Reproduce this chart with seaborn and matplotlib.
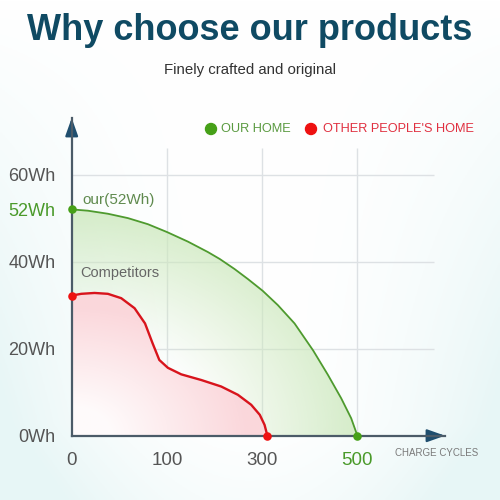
"""Why choose our products: battery capacity vs. charge cycles."""

import matplotlib

matplotlib.use("Agg")
import matplotlib.pyplot as plt
import numpy as np
import pandas as pd
import seaborn as sns
from matplotlib.patches import Polygon

# Data (cycles, Wh)
our_cycles = [0, 17, 38, 59, 80, 100, 144, 186, 211, 242, 270, 301, 333, 368, 407, 438, 466, 487, 500]
our_wh = [52.0, 51.7, 51.0, 50.0, 48.6, 46.8, 44.6, 42.2, 40.6, 38.3, 36.0, 33.3, 30.0, 25.8, 19.6, 14.0, 8.6, 4.0, 0.0]
other_cycles = [0, 10, 24, 38, 52, 66, 77, 85, 92, 102, 130, 172, 214, 249, 277, 295, 305, 311]
other_wh = [32.2, 32.6, 32.8, 32.6, 31.6, 29.3, 25.8, 21.2, 17.4, 15.6, 14.1, 12.8, 11.3, 9.4, 7.1, 4.8, 2.5, 0.0]

x_ticks = [0, 100, 300, 500]
x_labels = ["0", "100", "300", "500"]
y_ticks = [0, 20, 40, 52, 60]
y_labels = ["0Wh", "20Wh", "40Wh", "52Wh", "60Wh"]

GREEN = "#4e9a2e"
RED = "#d8141c"
AXIS = "#4b5b68"
GRID = "#dde1e4"
TICK_TXT = "#555555"

# x axis is not linear: ticks 0/100/300/500 are evenly spaced
KNOTS_X = np.array([0, 100, 300, 500, 700], dtype=float)
KNOTS_U = np.array([0, 1, 2, 3, 4], dtype=float)


def fwd(x):
    x = np.asarray(x, dtype=float)
    u = np.interp(x, KNOTS_X, KNOTS_U)
    u = np.where(x < 0, x / 100.0, u)
    u = np.where(x > 700, 4 + (x - 700) / 200.0, u)
    return u


def inv(u):
    u = np.asarray(u, dtype=float)
    x = np.interp(u, KNOTS_U, KNOTS_X)
    x = np.where(u < 0, u * 100.0, x)
    x = np.where(u > 4, 700 + (u - 4) * 200.0, x)
    return x


sns.set_theme(style="white")
plt.rcParams["font.family"] = ["Liberation Sans", "DejaVu Sans"]

fig = plt.figure(figsize=(5, 5), dpi=100)
fig.patch.set_facecolor("white")

# soft cyan background towards the lower corners
bg = fig.add_axes([0, 0, 1, 1], zorder=-10)
yy, xx = np.mgrid[0:1:200j, 0:1:200j]
w = (np.abs(xx - 0.5) / 0.5) ** 2 * (1 - yy) * 1.3 + np.clip(0.15 - yy, 0, None) * 2
w = np.clip(w, 0, 1) * 0.8
edge = np.array([0.886, 0.957, 0.957])
img = (1 - w[..., None]) * np.ones(3) + w[..., None] * edge
bg.imshow(img, extent=[0, 1, 0, 1], origin="lower", aspect="auto")
bg.axis("off")

ax = fig.add_axes([0.1434, 0.1286, 0.7466, 0.6354])
ax.set_facecolor("none")
ax.set_xscale("function", functions=(fwd, inv))
ax.set_xlim(0, 684)
ax.set_ylim(0, 73.0)

# grid
ax.vlines(x_ticks[1:], 0, 66, color=GRID, lw=1, zorder=0)
ax.hlines([20, 40, 60], 0, 660, color=GRID, lw=1, zorder=0)

# gradient fills clipped to the areas under the curves
gy, gx = np.mgrid[0:1:240j, 0:1:240j]
r_g = np.sqrt((gx / 0.765) ** 2 + (gy / 0.712) ** 2)
green_img = np.zeros((240, 240, 4))
green_img[..., :3] = [0.80, 0.91, 0.74]
green_img[..., 3] = np.clip((r_g - 0.45) / 0.55, 0.05, 1) * 0.8
im_g = ax.imshow(green_img, extent=[0, 1, 0, 1], origin="lower", aspect="auto",
                 transform=ax.transAxes, zorder=1, interpolation="bilinear")
poly_g = Polygon(list(zip(our_cycles, our_wh)) + [(0, 0)], closed=True,
                 transform=ax.transData, facecolor="none", edgecolor="none")
ax.add_patch(poly_g)
im_g.set_clip_path(poly_g)

# white under the red area so green does not show through
ax.fill_between(other_cycles, other_wh, 0, color="white", lw=0, zorder=1.5)

r_r = np.sqrt((gx / 0.52) ** 2 + (gy / 0.45) ** 2)
red_img = np.zeros((240, 240, 4))
red_img[..., :3] = [0.98, 0.78, 0.80]
red_img[..., 3] = np.clip(0.08 + 0.62 * (r_r - 0.2) / 0.7, 0.08, 0.7)
im_r = ax.imshow(red_img, extent=[0, 1, 0, 1], origin="lower", aspect="auto",
                 transform=ax.transAxes, zorder=2, interpolation="bilinear")
poly_r = Polygon(list(zip(other_cycles, other_wh)) + [(0, 0)], closed=True,
                 transform=ax.transData, facecolor="none", edgecolor="none")
ax.add_patch(poly_r)
im_r.set_clip_path(poly_r)

# curves
our_df = pd.DataFrame({"cycles": our_cycles, "wh": our_wh})
other_df = pd.DataFrame({"cycles": other_cycles, "wh": other_wh})
sns.lineplot(data=our_df, x="cycles", y="wh", sort=False, estimator=None,
             color=GREEN, lw=1.3, ax=ax, zorder=4)
sns.lineplot(data=other_df, x="cycles", y="wh", sort=False, estimator=None,
             color=RED, lw=1.7, ax=ax, zorder=4)
ax.scatter([our_cycles[0], our_cycles[-1]], [our_wh[0], our_wh[-1]], s=38,
           color="#46a018", zorder=6, clip_on=False, linewidths=0)
ax.scatter([other_cycles[0], other_cycles[-1]], [other_wh[0], other_wh[-1]], s=38,
           color="#ee1111", zorder=6, clip_on=False, linewidths=0)

ax.text(10.8, 54.2, "our(52Wh)", color="#5f8a4e", fontsize=11, ha="left", va="center")
ax.text(8.7, 37.4, "Competitors", color="#666666", fontsize=10.5, ha="left", va="center")

# axes, ticks
for side in ["top", "right"]:
    ax.spines[side].set_visible(False)
for side in ["left", "bottom"]:
    ax.spines[side].set_color(AXIS)
    ax.spines[side].set_linewidth(1.6)
    ax.spines[side].set_zorder(5)

ax.set_xticks(x_ticks)
ax.set_xticklabels(x_labels)
ax.set_yticks(y_ticks)
ax.set_yticklabels(y_labels)
ax.tick_params(axis="y", direction="out", length=8.5, width=1.2, color=AXIS,
               labelsize=13, labelcolor=TICK_TXT, pad=3)
ax.tick_params(axis="x", direction="out", length=8, width=1.2, color=AXIS,
               labelsize=13.5, labelcolor=TICK_TXT, pad=4)
ax.set_xlabel("")
ax.set_ylabel("")
ax.get_yticklabels()[3].set_color("#4a9a2a")
ax.yaxis.get_major_ticks()[3].tick1line.set_visible(False)
ax.get_xticklabels()[3].set_color("#4a9a2a")

arrow = dict(arrowstyle="-|>,head_length=0.9,head_width=0.32", color="#1f4e6e",
             lw=1.6, shrinkA=0, shrinkB=0)
ax.annotate("", xy=(1.0, 0), xytext=(0.95, 0), xycoords="axes fraction",
            arrowprops=arrow, annotation_clip=False)
ax.annotate("", xy=(0, 1.0), xytext=(0, 0.95), xycoords="axes fraction",
            arrowprops=arrow, annotation_clip=False)

fig.text(0.79, 0.094, "CHARGE CYCLES", color="#7a7a7a", fontsize=7, ha="left", va="center")

# legend
fig.patches.append(plt.Circle((0.422, 0.742), 0.011, transform=fig.transFigure,
                              color="#46a018", figure=fig))
fig.text(0.442, 0.742, "OUR HOME", color="#5a9a40", fontsize=9.2, ha="left", va="center")
fig.patches.append(plt.Circle((0.622, 0.742), 0.011, transform=fig.transFigure,
                              color="#ee1111", figure=fig))
fig.text(0.646, 0.742, "OTHER PEOPLE'S HOME", color="#e03040", fontsize=9.2,
         ha="left", va="center")

# titles
fig.text(0.5, 0.938, "Why choose our products", color="#0f4a63", fontsize=26,
         fontweight="bold", ha="center", va="center")
fig.text(0.5, 0.86, "Finely crafted and original", color="#333333", fontsize=10.8,
         ha="center", va="center")

fig.savefig("out.png", dpi=100)
